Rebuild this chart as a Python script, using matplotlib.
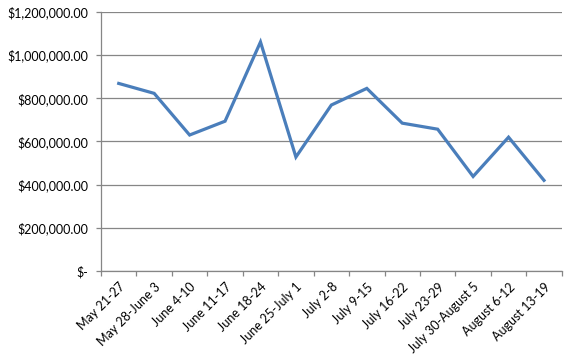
import matplotlib
matplotlib.use("Agg")
import matplotlib.pyplot as plt
from matplotlib.ticker import FuncFormatter, FixedLocator

categories = ["May 21-27", "May 28-June 3", "June 4-10", "June 11-17", "June 18-24",
              "June 25-July 1", "July 2-8", "July 9-15", "July 16-22", "July 23-29",
              "July 30-August 5", "August 6-12", "August 13-19"]
values = [869000, 823000, 630000, 694000, 1061000, 528000, 769000, 846000,
          685000, 657000, 438000, 620000, 420000]
y_ticks = [0, 200000, 400000, 600000, 800000, 1000000, 1200000]

plt.rcParams['font.family'] = ['Lato', 'DejaVu Sans']

fig = plt.figure(figsize=(5.72, 3.6), dpi=100)
ax = fig.add_axes([0.1766, 0.2472, 0.982 - 0.1766, 0.9667 - 0.2472])

x = list(range(len(categories)))
ax.plot(x, values, color="#4A7EBB", linewidth=2.3, solid_joinstyle="miter")

ax.set_xlim(-0.5, len(categories) - 0.5)
ax.set_ylim(0, 1200000)

def fmt(v, pos):
    if v == 0:
        return "$-"
    return "${:,.2f}".format(v)

ax.yaxis.set_major_locator(FixedLocator(y_ticks))
ax.yaxis.set_major_formatter(FuncFormatter(fmt))
ax.yaxis.grid(True, color="#868686", linewidth=0.9)
ax.set_axisbelow(True)

ax.set_xticks(x)
ax.set_xticklabels(categories, rotation=45, ha="right", rotation_mode="anchor")
ax.set_xticks([i - 0.5 for i in range(len(categories) + 1)], minor=True)
ax.tick_params(axis="x", which="major", length=0, pad=7, labelsize=9.0, colors="black")
ax.tick_params(axis="x", which="minor", length=3.6, color="#868686", width=0.9)
ax.tick_params(axis="y", length=3.6, color="#868686", width=0.9, labelsize=9, pad=5.5)

for s in ["top", "right"]:
    ax.spines[s].set_visible(False)
for s in ["left", "bottom"]:
    ax.spines[s].set_color("#868686")
    ax.spines[s].set_linewidth(0.9)

fig.savefig("out.png", dpi=100)
